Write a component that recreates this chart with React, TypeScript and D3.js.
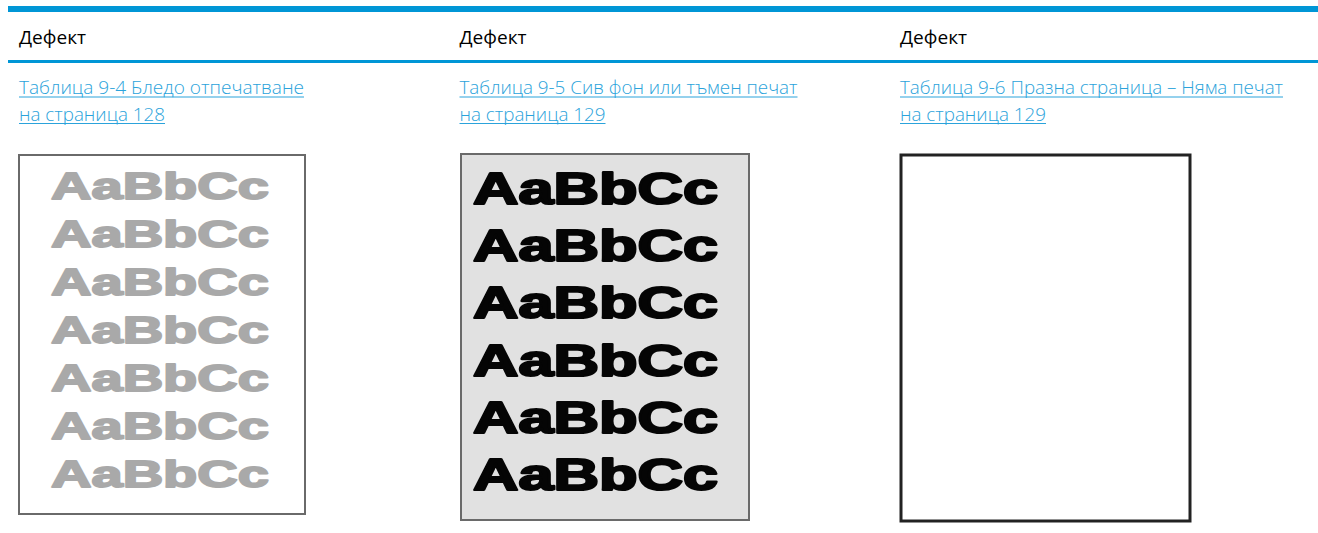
import React from "react";
import * as d3 from "d3";

const headers = ["Дефект", "Дефект", "Дефект"];
const linkLine1 = [
  "Таблица 9-4 Бледо отпечатване",
  "Таблица 9-5 Сив фон или тъмен печат",
  "Таблица 9-6 Празна страница – Няма печат",
];
const linkLine2 = ["на страница 128", "на страница 129", "на страница 129"];
const sampleText = "AaBbCc";
const sampleRows = [7, 6, 0];

const W = 1318;
const H = 533;
const BLUE = "#0096d6";
const LINK = "#2ba3db";

// layout per column (measured from reference)
const colX = d3.scaleLinear().domain([0, 2]).range([19, 900]);
const line1Width = [285, 338, 383];
const line2Width = [146, 146, 146];
const boxes = [
  { x0: 19, x1: 305, y0: 155, y1: 514, fill: "#ffffff", stroke: "#6a6a6a", sw: 2, txt: "#a9a9a9", tsw: 1.8, tx0: 51, tx1: 269, fs: 37, b0: 199, b1: 487 },
  { x0: 461, x1: 749, y0: 154, y1: 520, fill: "#e1e1e1", stroke: "#6a6a6a", sw: 2, txt: "#050505", tsw: 2.2, tx0: 473, tx1: 718, fs: 44, b0: 204, b1: 490 },
  { x0: 901, x1: 1190, y0: 155, y1: 521, fill: "#ffffff", stroke: "#222222", sw: 3, txt: "#000", tsw: 0, tx0: 0, tx1: 0, fs: 0, b0: 0, b1: 0 },
];

export default function App() {
  return (
    <svg
      width={W}
      height={H}
      viewBox={`0 0 ${W} ${H}`}
      style={{ position: "absolute", left: 0, top: 0, display: "block", background: "#fff" }}
    >
      <rect x={8} y={6} width={W - 8} height={6} fill={BLUE} />
      <rect x={8} y={60} width={W - 8} height={3} fill={BLUE} />
      {headers.map((h, i) => (
        <text
          key={"h" + i}
          x={colX(i)}
          y={44}
          fontFamily="'Open Sans', 'Noto Sans', sans-serif"
          fontWeight={500}
          fontSize={19}
          fill="#000"
          textLength={67}
          lengthAdjust="spacingAndGlyphs"
        >
          {h}
        </text>
      ))}
      {linkLine1.map((t, i) => (
        <g key={"l" + i}>
          <text
            x={colX(i)}
            y={94}
            fontFamily="'Open Sans', 'Noto Sans', sans-serif"
            fontWeight={300}
            fontSize={19}
            fill={LINK}
            textLength={line1Width[i]}
            lengthAdjust="spacingAndGlyphs"
          >
            {t}
          </text>
          <line x1={colX(i)} x2={colX(i) + line1Width[i]} y1={97} y2={97} stroke={LINK} strokeWidth={1} />
          <text
            x={colX(i)}
            y={120.5}
            fontFamily="'Open Sans', 'Noto Sans', sans-serif"
            fontWeight={300}
            fontSize={19}
            fill={LINK}
            textLength={line2Width[i]}
            lengthAdjust="spacingAndGlyphs"
          >
            {linkLine2[i]}
          </text>
          <line x1={colX(i)} x2={colX(i) + line2Width[i]} y1={123.5} y2={123.5} stroke={LINK} strokeWidth={1} />
        </g>
      ))}
      {boxes.map((b, i) => {
        const n = sampleRows[i];
        const rowY = d3.scaleLinear().domain([0, Math.max(1, n - 1)]).range([b.b0, b.b1]);
        const rows = d3.range(n);
        return (
          <g key={"b" + i}>
            <rect
              x={b.x0}
              y={b.y0}
              width={b.x1 - b.x0}
              height={b.y1 - b.y0}
              fill={b.fill}
              stroke={b.stroke}
              strokeWidth={b.sw}
            />
            {rows.map((r) => (
              <text
                key={r}
                x={b.tx0}
                y={rowY(r)}
                fontFamily="'Liberation Sans', Arial, sans-serif"
                fontWeight={900}
                fontSize={b.fs}
                fill={b.txt}
                stroke={b.txt}
                strokeWidth={b.tsw}
                strokeLinejoin="round"
                textLength={b.tx1 - b.tx0}
                lengthAdjust="spacingAndGlyphs"
              >
                {sampleText}
              </text>
            ))}
          </g>
        );
      })}
    </svg>
  );
}
